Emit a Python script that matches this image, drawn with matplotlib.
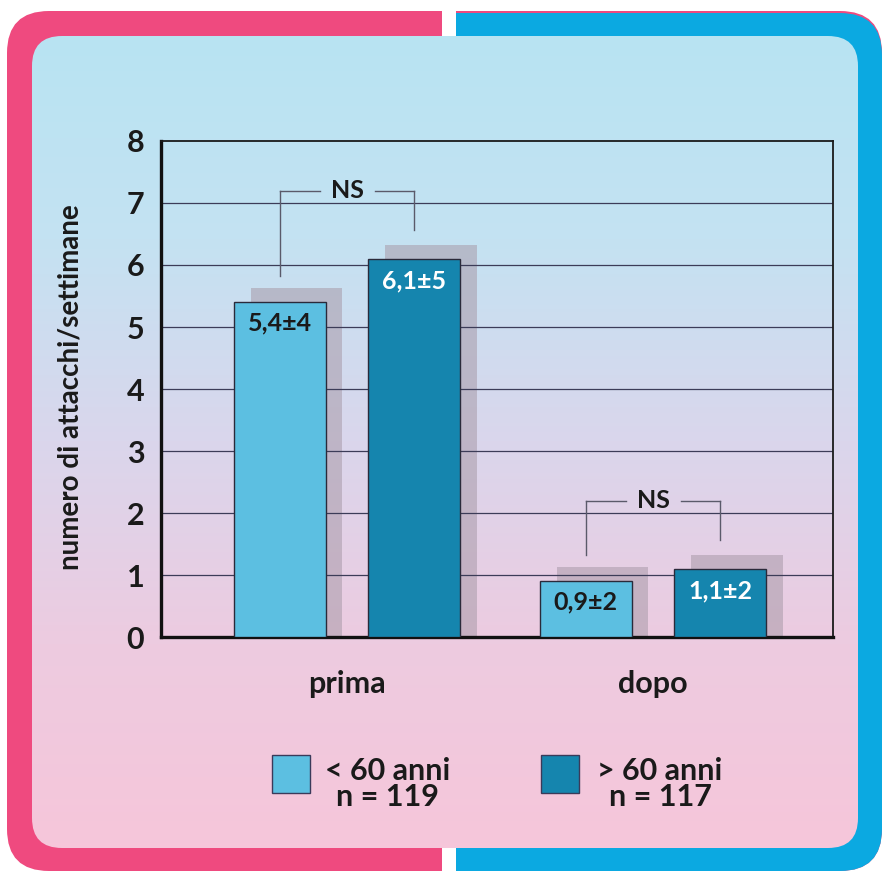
import numpy as np
import matplotlib
matplotlib.use("Agg")
import matplotlib.pyplot as plt
from matplotlib.patches import FancyBboxPatch, Rectangle
from matplotlib.colors import LinearSegmentedColormap

plt.rcParams['font.family'] = ['Lato', 'DejaVu Sans']

# --- data ---
categories = ["prima", "dopo"]
groups = ["< 60 anni\nn = 119", "> 60 anni\nn = 117"]
under60 = [5.4, 0.9]
over60 = [6.1, 1.1]
under60_sd = [4, 2]
over60_sd = [5, 2]
sig_labels = ["NS", "NS"]
yticks = [0, 1, 2, 3, 4, 5, 6, 7, 8]

W, H = 884, 872
fig = plt.figure(figsize=(W / 100, H / 100), dpi=100)
fig.patch.set_facecolor("white")

# --- frame and background (pixel coordinates) ---
bg = fig.add_axes([0, 0, 1, 1], zorder=0)
bg.set_xlim(0, W)
bg.set_ylim(H, 0)
bg.axis("off")

pink = "#ef4a7f"
cyan = "#0ba9e1"
outer = FancyBboxPatch((7, 11), 875, 860, boxstyle="round,pad=0,rounding_size=42",
                       fc=pink, ec="none", zorder=0)
bg.add_patch(outer)
outer_r = FancyBboxPatch((7, 13), 875, 858, boxstyle="round,pad=0,rounding_size=42",
                         fc=cyan, ec="none", zorder=0.1)
bg.add_patch(outer_r)
outer_r.set_clip_path(Rectangle((456, 0), 500, H, transform=bg.transData))
bg.add_patch(Rectangle((442, 0), 14, H, fc="white", ec="none", zorder=0.2))

inner = FancyBboxPatch((32, 36), 826, 812, boxstyle="round,pad=0,rounding_size=30",
                       fc="none", ec="none", zorder=0.3)
bg.add_patch(inner)
grad_cmap = LinearSegmentedColormap.from_list(
    "panel", ["#b8e4f2", "#c4e2f2", "#dad6ec", "#edcbe0", "#f6c6da"])
grad = np.linspace(0, 1, 256).reshape(-1, 1)
im = bg.imshow(grad, cmap=grad_cmap, extent=(32, 858, 848, 36), aspect="auto",
               zorder=0.4, interpolation="bilinear")
im.set_clip_path(inner)

# --- main chart ---
ax = fig.add_axes([161 / W, 1 - 637 / H, (833 - 161) / W, (637 - 141) / H], zorder=1)
ax.set_facecolor("none")
x = np.arange(len(categories))
width = 0.30
off = 0.22
light = "#5cbfe1"
dark = "#1585ae"
shadow_dx, shadow_dy = 0.055, 0.23

for xs, vals, col in [(x - off, under60, light), (x + off, over60, dark)]:
    ax.bar(xs + shadow_dx, np.array(vals) + shadow_dy, width=width,
           color="#a89aa8", alpha=0.55, zorder=1)
    ax.bar(xs, vals, width=width, color=col, edgecolor="#2a2a3a", linewidth=1.0, zorder=3)

for xi, v, sd in zip(x - off, under60, under60_sd):
    ax.text(xi, v - 0.33, f"{v:.1f}".replace(".", ",") + f"±{sd}", ha="center",
            va="center", fontsize=18, fontweight="bold", color="#1a1a1a", zorder=4)
for xi, v, sd in zip(x + off, over60, over60_sd):
    ax.text(xi, v - 0.35, f"{v:.1f}".replace(".", ",") + f"±{sd}", ha="center",
            va="center", fontsize=18, fontweight="bold", color="white", zorder=4)

# significance brackets
for i, lab in enumerate(sig_labels):
    top = max(under60[i], over60[i]) + 1.1
    xl, xr = x[i] - off, x[i] + off
    lc = "#5a5a6a"
    ax.plot([xl, xl], [under60[i] + 0.43, top], color=lc, lw=1, zorder=2)
    ax.plot([xr, xr], [over60[i] + 0.47, top], color=lc, lw=1, zorder=2)
    ax.plot([xl, x[i] - 0.09], [top, top], color=lc, lw=1, zorder=2)
    ax.plot([x[i] + 0.09, xr], [top, top], color=lc, lw=1, zorder=2)
    ax.text(x[i], top, lab, ha="center", va="center", fontsize=18,
            fontweight="bold", color="#1a1a1a", zorder=4)

ax.set_xlim(-0.608, 1.588)
ax.set_ylim(0, 8)
ax.set_yticks(yticks)
ax.set_yticklabels([str(t) for t in yticks], fontsize=22, fontweight="bold", color="#1a1a1a")
ax.set_xticks(x)
ax.set_xticklabels(categories, fontsize=22, fontweight="bold", color="#1a1a1a")
ax.tick_params(axis="y", length=0, pad=12)
ax.tick_params(axis="x", length=0, pad=24)
for yv in yticks[1:-1]:
    ax.axhline(yv, color="#3c3c58", lw=0.9, zorder=1.5)
for s in ["top", "right"]:
    ax.spines[s].set_linewidth(1.3)
    ax.spines[s].set_color("#1a1a1a")
for s in ["left", "bottom"]:
    ax.spines[s].set_linewidth(2.4)
    ax.spines[s].set_color("#111111")
ax.set_ylabel("numero di attacchi/settimane", fontsize=20, fontweight="bold",
              color="#1a1a1a")
ax.yaxis.set_label_coords(-0.116, 0.504)

# --- legend ---
for (sx, col, tx, lab) in [(272, light, 388, groups[0]), (541, dark, 660, groups[1])]:
    bg.add_patch(Rectangle((sx, 755), 38, 38, fc=col, ec="#3a3a5a", lw=1, zorder=2))
    bg.text(tx, 784, lab, ha="center", va="center", multialignment="center",
            fontsize=22, fontweight="bold", color="#1a1a1a", linespacing=0.95, zorder=2)

fig.savefig("out.png", dpi=100)
